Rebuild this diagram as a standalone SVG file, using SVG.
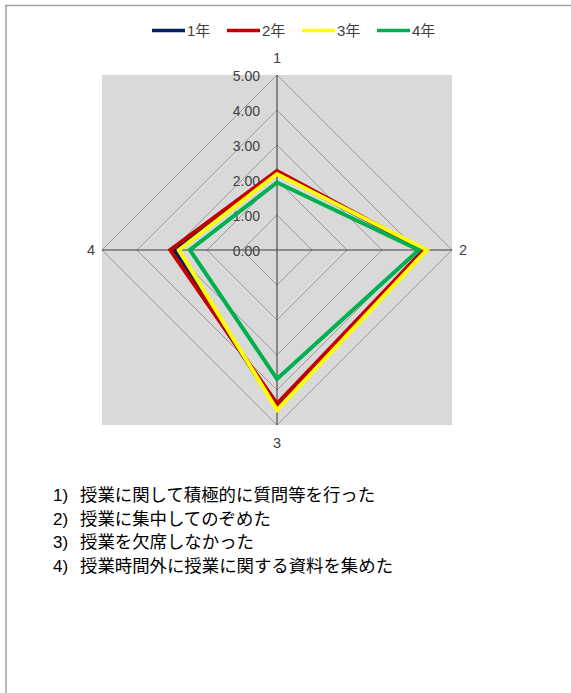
<svg xmlns="http://www.w3.org/2000/svg" width="571" height="693" viewBox="0 0 571 693">
<style>
.lbl{font-family:"Liberation Sans","Noto Sans CJK JP",sans-serif;font-size:15px;fill:#404040}
.ax{font-family:"Liberation Sans",sans-serif;font-size:14.5px;fill:#404040;text-anchor:middle}
.val{font-family:"Liberation Sans",sans-serif;font-size:14px;fill:#404040;text-anchor:end}
.grid{fill:none;stroke:#8c8c8c;stroke-width:0.8}
.axis{stroke:#404040;stroke-width:1.1}
.ser{fill:none;stroke-width:4;stroke-linejoin:miter}
.list{font-family:"Liberation Sans","Noto Sans CJK JP",sans-serif;font-size:17px;fill:#000}
.jp{font-size:17.4px}
</style>
<rect width="571" height="693" fill="#fff"/>
<path d="M6 693 V5.5 H571" fill="none" stroke="#a0a0a0" stroke-width="1.5"/>
<g id="legend">
<line x1="152" y1="30.5" x2="185" y2="30.5" stroke="#002060" stroke-width="3.5"/>
<text class="lbl" x="187" y="36">1年</text>
<line x1="227" y1="30.5" x2="260" y2="30.5" stroke="#C00000" stroke-width="3.5"/>
<text class="lbl" x="262" y="36">2年</text>
<line x1="302" y1="30.5" x2="335" y2="30.5" stroke="#FFFF00" stroke-width="3.5"/>
<text class="lbl" x="337" y="36">3年</text>
<line x1="377" y1="30.5" x2="410" y2="30.5" stroke="#00B050" stroke-width="3.5"/>
<text class="lbl" x="412" y="36">4年</text>
</g>
<g id="plot">
<rect x="102" y="75" width="350" height="350" fill="#D9D9D9"/>
<polygon class="grid" points="277,215 312,250 277,285 242,250"/>
<polygon class="grid" points="277,180 347,250 277,320 207,250"/>
<polygon class="grid" points="277,145 382,250 277,355 172,250"/>
<polygon class="grid" points="277,110 417,250 277,390 137,250"/>
<polygon class="grid" points="277,75 452,250 277,425 102,250"/>
<line class="axis" x1="277" y1="75" x2="277" y2="425"/>
<line class="axis" x1="102" y1="250" x2="452" y2="250"/>
</g>
<g id="values">
<text class="val" x="260" y="81">5.00</text>
<text class="val" x="260" y="116">4.00</text>
<text class="val" x="260" y="151">3.00</text>
<text class="val" x="260" y="186">2.00</text>
<text class="val" x="260" y="221">1.00</text>
<text class="val" x="260" y="256">0.00</text>
</g>
<g id="axis-labels">
<text class="ax" x="277" y="63">1</text>
<text class="ax" x="463" y="255">2</text>
<text class="ax" x="277" y="448">3</text>
<text class="ax" x="91" y="255">4</text>
</g>
<g id="series">
<polygon id="s1" class="ser" stroke="#002060" points="277,173 423.7,250 277,407.5 173.8,250"/>
<polygon id="s2" class="ser" stroke="#C00000" points="277,170.9 423.7,250 277,404 170.3,250"/>
<polygon id="s3" class="ser" stroke="#FFFF00" points="277,174 426.8,250 277,410 179,250"/>
<polygon id="s4" class="ser" stroke="#00B050" points="277,182.5 418.8,250 277,379 189.9,250"/>
</g>
<g id="notes">
<text class="list" x="53" y="501">1)</text><text class="list jp" x="80" y="501">授業に関して積極的に質問等を行った</text>
<text class="list" x="53" y="524.5">2)</text><text class="list jp" x="80" y="524.5">授業に集中してのぞめた</text>
<text class="list" x="53" y="548">3)</text><text class="list jp" x="80" y="548">授業を欠席しなかった</text>
<text class="list" x="53" y="571.5">4)</text><text class="list jp" x="80" y="571.5">授業時間外に授業に関する資料を集めた</text>
</g>
</svg>
